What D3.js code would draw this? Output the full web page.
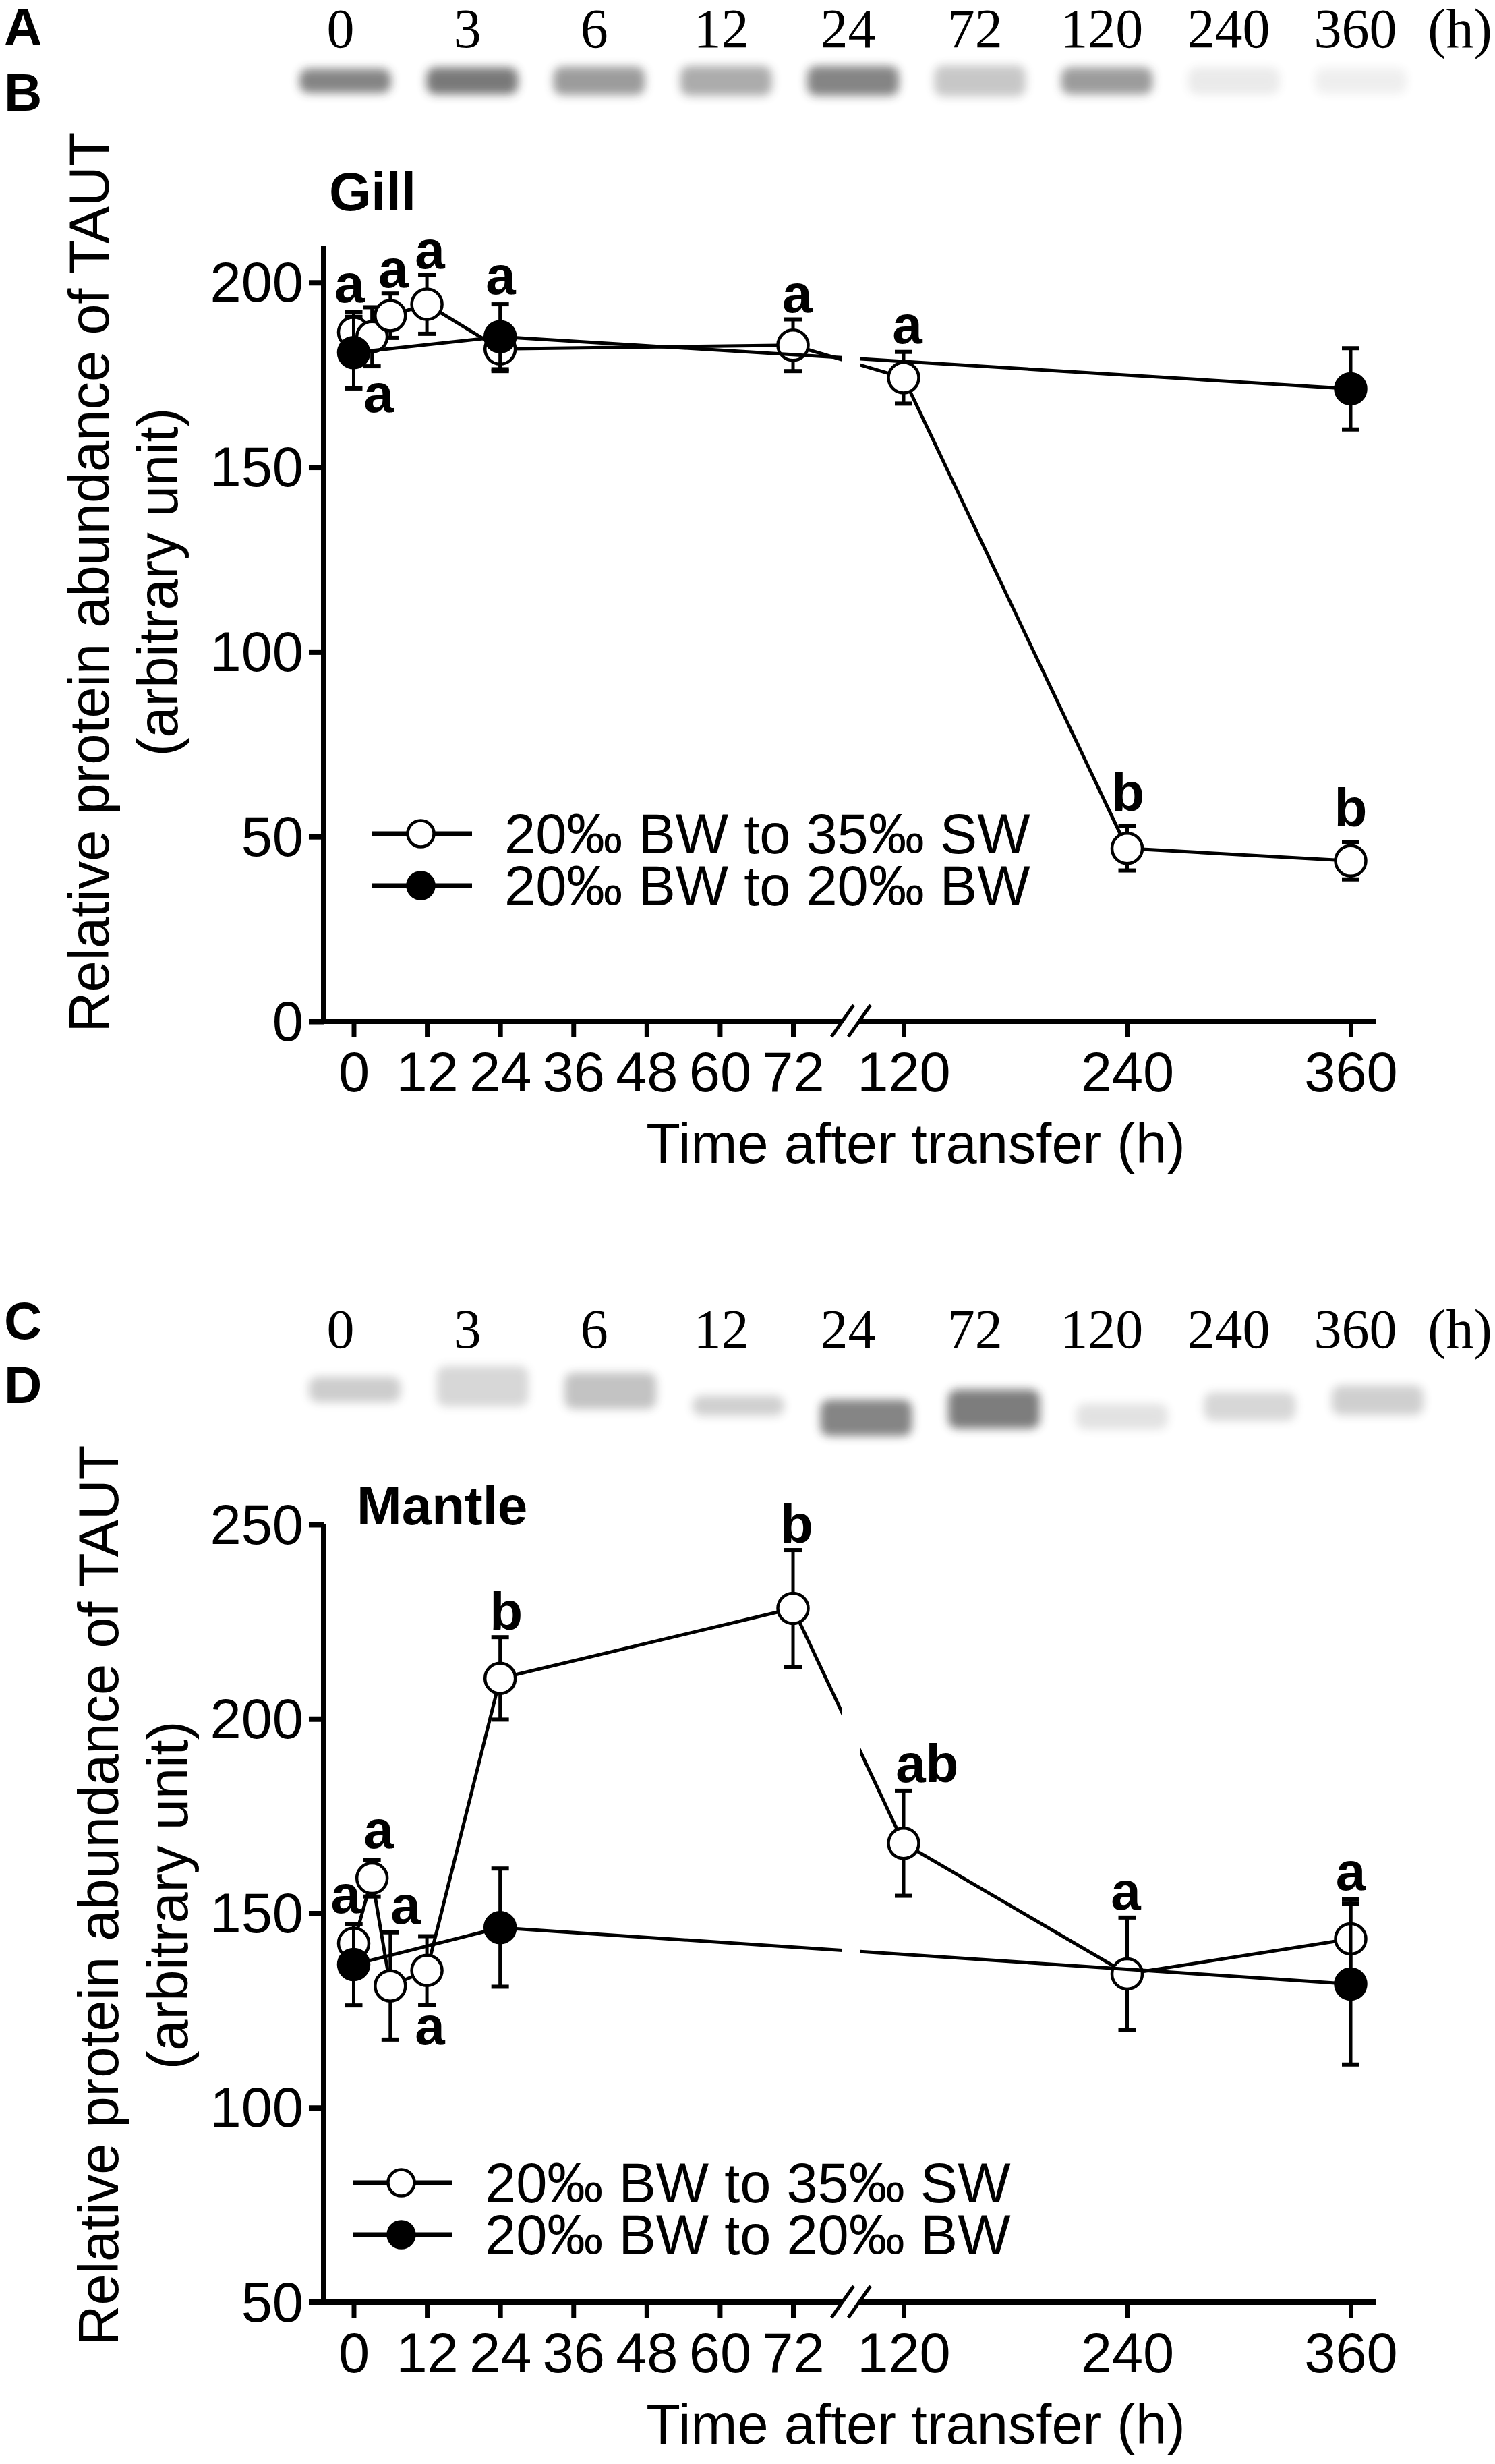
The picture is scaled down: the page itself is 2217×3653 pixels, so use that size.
<!DOCTYPE html>
<html lang="en">
<head>
<meta charset="UTF-8">
<title>TAUT protein abundance – gill and mantle</title>
<script src="https://cdn.jsdelivr.net/npm/d3@7/dist/d3.min.js"></script>
<style>
  html, body { margin: 0; padding: 0; background: #fff; }
  svg { display: block; font-family: "Liberation Sans", Arial, Helvetica, sans-serif; }
</style>
</head>
<body>
<svg id="fig" width="2217" height="3653"></svg>
<script>
// ---- data ----
const swHours = [0, 3, 6, 12, 24, 72, 120, 240, 360];
const bwHours = [0, 24, 360];

const gillSW    = [186.5, 185.3, 191, 194.1, 182, 183, 174.2, 46.8, 43.4];
const gillSWerr = [5.5, 8, 6, 8, 6, 7, 7, 6, 5];
const gillBW    = [181, 185.3, 171.2];
const gillBWerr = [9.7, 8.8, 11];

const mantleSW    = [142.3, 159, 131.3, 135.3, 210.4, 228.4, 168, 134.4, 143.4];
const mantleSWerr = [5, 4.7, 13.8, 8.8, 10.6, 15, 13.5, 14.5, 10.3];
const mantleBW    = [136.8, 146.3, 131.8];
const mantleBWerr = [10.5, 15.2, 20.7];

// significance letters (hour, value of the letter baseline)
const gillLetters      = ["a", "a", "a", "a", "a", "a", "a", "b", "b"];
const gillLetterHour   = [-0.7, 4.1, 6.5, 12.5, 24.1, 72.7, 122, 240.4, 360];
const gillLetterValue  = [194.7, 164.9, 198.7, 203.8, 196.8, 191.9, 183.5, 56.9, 52.7];
const mantleLetters     = ["a", "a", "a", "a", "b", "b", "ab", "a", "a"];
const mantleLetterHour  = [-1.3, 4.1, 8.5, 12.5, 25, 72.6, 132.6, 239.3, 360];
const mantleLetterValue = [150.1, 166.8, 147.3, 116.3, 222.9, 245.3, 183.7, 151, 156];

// axis ticks
const earlyTicks = [0, 12, 24, 36, 48, 60, 72];
const lateTicks  = [120, 240, 360];
const gillYTicks   = [0, 50, 100, 150, 200];
const mantleYTicks = [50, 100, 150, 200, 250];

// western blot lanes
const lanes = ["0", "3", "6", "12", "24", "72", "120", "240", "360"];
const gillBandDensity   = [0.62, 0.68, 0.5, 0.42, 0.62, 0.28, 0.5, 0.1, 0.08];
const mantleBandDensity = [0.25, 0.2, 0.3, 0.24, 0.62, 0.66, 0.14, 0.2, 0.24];
const mantleBandDrift   = [0, -5, 2, 24, 42, 29, 40, 25, 16];

const seriesNames = ["20\u2030 BW to 35\u2030 SW", "20\u2030 BW to 20\u2030 BW"];

const svg = d3.select("#fig");
const defs = svg.append("defs");
defs.append("filter").attr("id", "blur")
  .attr("x", "-30%").attr("y", "-60%").attr("width", "160%").attr("height", "220%")
  .append("feGaussianBlur").attr("stdDeviation", 7);

// lines are interrupted where the x axis is broken
const clip = defs.append("clipPath").attr("id", "gap");
clip.append("rect").attr("x", 0).attr("y", 0).attr("width", 1249).attr("height", 3653);
clip.append("rect").attr("x", 1276).attr("y", 0).attr("width", 941).attr("height", 3653);

const xEarly = d3.scaleLinear().domain([0, 72]).range([524.5, 1176]);
const xLate  = d3.scaleLinear().domain([120, 360]).range([1340, 2003]);
const xPos = h => h <= 96 ? xEarly(h) : xLate(h);

const labelX = d3.scalePoint().domain(lanes).range([505, 2010]);

function blot(cfg) {
  const g = svg.append("g");
  g.append("text").attr("x", 6).attr("y", cfg.letterY[0]).attr("font-weight", "bold")
    .attr("font-size", 78).text(cfg.letters[0]);
  g.append("text").attr("x", 6).attr("y", cfg.letterY[1]).attr("font-weight", "bold")
    .attr("font-size", 78).text(cfg.letters[1]);

  g.selectAll("text.lane").data(lanes).join("text")
    .attr("class", "lane")
    .attr("x", d => labelX(d)).attr("y", cfg.labelBase)
    .attr("text-anchor", "middle")
    .attr("font-family", "'Liberation Serif', 'Times New Roman', serif")
    .attr("font-size", 82).text(d => d);
  g.append("text").attr("x", labelX("360") + 155).attr("y", cfg.labelBase)
    .attr("text-anchor", "middle")
    .attr("font-family", "'Liberation Serif', 'Times New Roman', serif")
    .attr("font-size", 82).text("(h)");

  const bx = d3.scalePoint().domain(lanes).range(cfg.bandRange);
  g.selectAll("rect.band").data(lanes).join("rect")
    .attr("class", "band")
    .attr("x", d => bx(d) - 68).attr("width", 136)
    .attr("y", (d, i) => cfg.bandY + (cfg.drift ? cfg.drift[i] : 0) - cfg.bandH[i] / 2)
    .attr("height", (d, i) => cfg.bandH[i])
    .attr("rx", 14)
    .attr("fill", "#3a3a3a")
    .attr("opacity", (d, i) => cfg.density[i])
    .attr("filter", "url(#blur)");
}

blot({ letters: ["A", "B"], letterY: [67, 164], labelBase: 70,
       bandRange: [512, 2018], bandY: 120, density: gillBandDensity,
       bandH: [36, 40, 42, 44, 44, 46, 40, 40, 38] });
blot({ letters: ["C", "D"], letterY: [1985, 2080], labelBase: 1998,
       bandRange: [526, 2043], bandY: 2060, density: mantleBandDensity, drift: mantleBandDrift,
       bandH: [38, 60, 54, 30, 54, 58, 38, 42, 44] });

function panel(cfg) {
  const g = svg.append("g");
  const y = d3.scaleLinear().domain(cfg.yDomain).range([cfg.yBottom, cfg.yTop]);
  const line = d3.line().x(d => xPos(d.h)).y(d => y(d.v));

  const series = [
    { hours: swHours, vals: cfg.sw, errs: cfg.swErr, fill: "#fff" },
    { hours: bwHours, vals: cfg.bw, errs: cfg.bwErr, fill: "#000" }
  ];

  series.forEach(s => {
    const pts = s.hours.map((h, i) => ({ h: h, v: s.vals[i], e: s.errs[i] }));
    g.append("path").datum(pts)
      .attr("d", line).attr("fill", "none").attr("stroke", "#000")
      .attr("stroke-width", 5).attr("clip-path", "url(#gap)");

    const eb = g.append("g").selectAll("g").data(pts).join("g");
    eb.append("line")
      .attr("x1", d => xPos(d.h)).attr("x2", d => xPos(d.h))
      .attr("y1", d => y(d.v - d.e)).attr("y2", d => y(d.v + d.e))
      .attr("stroke", "#000").attr("stroke-width", 5);
    [1, -1].forEach(sign => {
      eb.append("line")
        .attr("x1", d => xPos(d.h) - 13).attr("x2", d => xPos(d.h) + 13)
        .attr("y1", d => y(d.v + sign * d.e)).attr("y2", d => y(d.v + sign * d.e))
        .attr("stroke", "#000").attr("stroke-width", 6);
    });

    g.append("g").selectAll("circle").data(pts).join("circle")
      .attr("cx", d => xPos(d.h)).attr("cy", d => y(d.v)).attr("r", 22.5)
      .attr("fill", s.fill).attr("stroke", "#000").attr("stroke-width", 4.5);
  });

  // significance letters
  g.append("g").selectAll("text").data(cfg.letters).join("text")
    .attr("x", (d, i) => xPos(cfg.letterHour[i]))
    .attr("y", (d, i) => y(cfg.letterValue[i]))
    .attr("text-anchor", "middle").attr("font-weight", "bold").attr("font-size", 80)
    .text(d => d);

  // y axis
  const ya = g.append("g").attr("transform", "translate(480,0)")
    .call(d3.axisLeft(y).tickValues(cfg.yTicks).tickSize(22).tickSizeOuter(0).tickPadding(8));
  ya.select(".domain").remove();
  ya.selectAll(".tick line").attr("stroke-width", 8);
  ya.selectAll(".tick text").attr("font-size", 83).attr("font-family", null).attr("dy", "0.34em");
  g.append("line").attr("x1", 480).attr("x2", 480)
    .attr("y1", cfg.yTop).attr("y2", cfg.yBottom + 4)
    .attr("stroke", "#000").attr("stroke-width", 8);

  // broken x axis
  [[xEarly, earlyTicks], [xLate, lateTicks]].forEach(([sc, tv]) => {
    const xa = g.append("g").attr("transform", `translate(0,${cfg.yBottom})`)
      .call(d3.axisBottom(sc).tickValues(tv).tickSize(23).tickSizeOuter(0).tickPadding(22));
    xa.select(".domain").remove();
    xa.selectAll(".tick line").attr("stroke-width", 7);
    xa.selectAll(".tick text").attr("font-size", 83).attr("font-family", null);
  });
  g.append("line").attr("x1", 458).attr("x2", 1249)
    .attr("y1", cfg.yBottom).attr("y2", cfg.yBottom).attr("stroke", "#000").attr("stroke-width", 8);
  g.append("line").attr("x1", 1274).attr("x2", 2040)
    .attr("y1", cfg.yBottom).attr("y2", cfg.yBottom).attr("stroke", "#000").attr("stroke-width", 8);
  [1233, 1258].forEach(x0 => {
    g.append("line").attr("x1", x0).attr("y1", cfg.yBottom + 23)
      .attr("x2", x0 + 33).attr("y2", cfg.yBottom - 24)
      .attr("stroke", "#000").attr("stroke-width", 5);
  });

  g.append("text").attr("x", 1358).attr("y", cfg.yBottom + 210)
    .attr("text-anchor", "middle").attr("font-size", 83).text("Time after transfer (h)");

  // y label
  const yl = g.append("g");
  yl.append("text").attr("transform", `translate(${cfg.ylabX[0]},${cfg.ylabMid}) rotate(-90)`)
    .attr("text-anchor", "middle").attr("font-size", 83)
    .text("Relative protein abundance of TAUT");
  yl.append("text").attr("transform", `translate(${cfg.ylabX[1]},${cfg.ylabMid}) rotate(-90)`)
    .attr("text-anchor", "middle").attr("font-size", 83)
    .text("(arbitrary unit)");

  // title
  g.append("text").attr("x", cfg.titleX).attr("y", cfg.titleY)
    .attr("font-weight", "bold").attr("font-size", 80).text(cfg.title);

  // legend
  const lg = g.append("g").selectAll("g").data(seriesNames).join("g")
    .attr("transform", (d, i) => `translate(0,${cfg.legendY + i * 77})`);
  lg.append("line").attr("x1", cfg.legendX).attr("x2", cfg.legendX + 148)
    .attr("stroke", "#000").attr("stroke-width", 7);
  lg.append("circle").attr("cx", cfg.legendX + 72).attr("r", 19.5)
    .attr("fill", (d, i) => i === 0 ? "#fff" : "#000")
    .attr("stroke", "#000").attr("stroke-width", 4.5);
  lg.append("text").attr("x", cfg.legendX + 196).attr("dy", "0.35em")
    .attr("font-size", 83).text(d => d);
}

panel({
  title: "Gill", titleX: 488, titleY: 312,
  yDomain: [0, 210], yTop: 364, yBottom: 1514, yTicks: gillYTicks,
  sw: gillSW, swErr: gillSWerr, bw: gillBW, bwErr: gillBWerr,
  letters: gillLetters, letterHour: gillLetterHour, letterValue: gillLetterValue,
  ylabX: [161, 263], ylabMid: 863,
  legendX: 552, legendY: 1236
});

panel({
  title: "Mantle", titleX: 529, titleY: 2260,
  yDomain: [50, 250], yTop: 2260, yBottom: 3413, yTicks: mantleYTicks,
  sw: mantleSW, swErr: mantleSWerr, bw: mantleBW, bwErr: mantleBWerr,
  letters: mantleLetters, letterHour: mantleLetterHour, letterValue: mantleLetterValue,
  ylabX: [175, 278], ylabMid: 2810,
  legendX: 523, legendY: 3236
});
</script>
</body>
</html>
